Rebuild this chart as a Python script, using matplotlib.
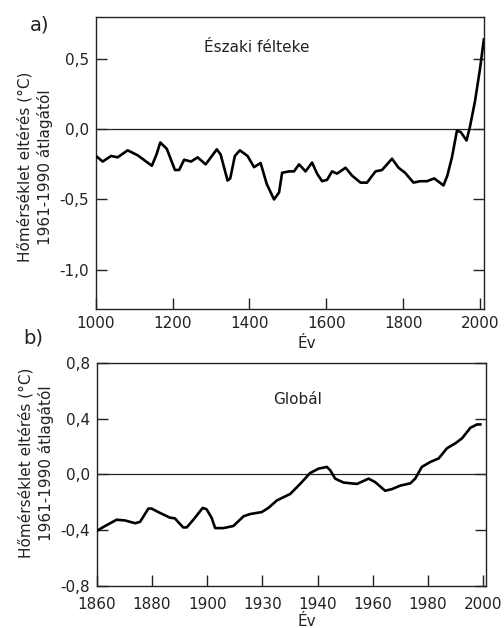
import numpy as np, matplotlib
matplotlib.use("Agg")
import matplotlib.pyplot as plt

plt.rcParams["font.family"] = ["DejaVu Sans"]

# a) Northern hemisphere, 1000-2000
nh_year = [1000, 1005, 1018, 1040, 1057, 1083, 1109, 1146, 1158, 1168, 1185, 1206, 1217,
           1230, 1248, 1265, 1286, 1315, 1325, 1343, 1350, 1362, 1375, 1395, 1412, 1429,
           1445, 1464, 1477, 1485, 1503, 1516, 1529, 1546, 1563, 1576, 1589, 1602, 1615,
           1628, 1650, 1667, 1689, 1706, 1728, 1745, 1771, 1788, 1805, 1827, 1844, 1862,
           1881, 1905, 1915, 1927, 1940, 1950, 1965, 1974, 1987, 2000, 2010]
nh_val = [-0.19, -0.20, -0.23, -0.19, -0.20, -0.15, -0.185, -0.26, -0.18, -0.094, -0.14,
          -0.29, -0.29, -0.217, -0.23, -0.20, -0.25, -0.143, -0.18, -0.365, -0.35, -0.19,
          -0.15, -0.19, -0.27, -0.24, -0.39, -0.50, -0.45, -0.31, -0.30, -0.30, -0.25,
          -0.30, -0.237, -0.316, -0.37, -0.36, -0.30, -0.316, -0.274, -0.33, -0.38, -0.38,
          -0.30, -0.29, -0.21, -0.274, -0.31, -0.38, -0.37, -0.37, -0.35, -0.40, -0.33,
          -0.20, -0.01, -0.02, -0.08, 0.02, 0.20, 0.43, 0.64]

# b) Global, 1860-2000
gl_year = [1860, 1863, 1867.2, 1870.2, 1873.9, 1875.7, 1878.7, 1879.9, 1882.9, 1886.5,
           1888.3, 1891.3, 1892.6, 1895, 1898.4, 1899.8, 1901.6, 1902.9, 1905.9, 1909.5,
           1913.2, 1915.6, 1919.8, 1922.2, 1925.3, 1930.1, 1933.7, 1937.3, 1940.4, 1943.4,
           1944.6, 1946.4, 1949.4, 1954.3, 1958.5, 1960.9, 1964.5, 1967, 1970, 1973.6,
           1975.4, 1977.8, 1980.9, 1983.9, 1986.9, 1990, 1992.4, 1995.4, 1997.8, 1999]
gl_val = [-0.405, -0.37, -0.325, -0.33, -0.35, -0.34, -0.245, -0.245, -0.276, -0.31,
          -0.315, -0.38, -0.38, -0.325, -0.24, -0.25, -0.31, -0.385, -0.385, -0.37,
          -0.30, -0.284, -0.27, -0.24, -0.186, -0.14, -0.068, 0.01, 0.042, 0.054,
          0.03, -0.03, -0.058, -0.068, -0.03, -0.055, -0.117, -0.105, -0.08, -0.064,
          -0.03, 0.054, 0.09, 0.115, 0.188, 0.224, 0.26, 0.335, 0.359, 0.359]

nh_yticks = [0.5, 0.0, -0.5, -1.0]
nh_ylabels = ["0,5", "0,0", "-0,5", "-1,0"]
nh_xticks = [1000, 1200, 1400, 1600, 1800, 2000]
gl_yticks = [0.8, 0.4, 0.0, -0.4, -0.8]
gl_ylabels = ["0,8", "0,4", "0,0", "-0,4", "-0,8"]
gl_xticks = [1860, 1880, 1900, 1920, 1940, 1960, 1980, 2000]
gl_xlabels = ["1860", "1880", "1900", "1930", "1940", "1960", "1980", "2000"]

YLAB = "Hőmérséklet eltérés (°C)\n1961-1990 átlagától"
INK = "#222222"

fig = plt.figure(figsize=(5.04, 6.28), dpi=100)
axA = fig.add_axes([0.190, 0.508, 0.770, 0.465])
axB = fig.add_axes([0.192, 0.067, 0.772, 0.355])

def style(ax):
    for s in ax.spines.values():
        s.set_linewidth(1.0); s.set_color(INK)
    ax.tick_params(axis="x", direction="in", length=8, width=1.0, colors=INK,
                   labelsize=11, pad=5, top=False)
    ax.tick_params(axis="y", direction="in", length=8, width=1.0, colors=INK,
                   labelsize=11, pad=5, right=True)
    ax.axhline(0, color=INK, lw=0.9, zorder=1)

axA.plot(nh_year, nh_val, color="black", lw=1.9, solid_joinstyle="round", zorder=3)
axA.set_xlim(1000, 2010); axA.set_ylim(-1.28, 0.8)
axA.set_xticks(nh_xticks); axA.set_xticklabels([str(v) for v in nh_xticks])
axA.set_yticks(nh_yticks); axA.set_yticklabels(nh_ylabels)
style(axA)
axA.text(0.415, 0.895, "Északi félteke", transform=axA.transAxes, ha="center",
         va="center", fontsize=11, color=INK)

axB.plot(gl_year, gl_val, color="black", lw=1.9, solid_joinstyle="round", zorder=3)
axB.set_xlim(1860, 2001); axB.set_ylim(-0.8, 0.8)
axB.set_xticks(gl_xticks); axB.set_xticklabels(gl_xlabels)
axB.set_yticks(gl_yticks); axB.set_yticklabels(gl_ylabels)
style(axB)
axB.tick_params(axis="x", pad=8)
axB.text(0.516, 0.835, "Globál", transform=axB.transAxes, ha="center",
         va="center", fontsize=11, color=INK)

fig.text(40/504, 1-25/628, "a)", fontsize=14, ha="center", va="center", color=INK)
fig.text(33/504, 1-338/628, "b)", fontsize=14, ha="center", va="center", color=INK)
fig.text(35/504, 1-167/628, YLAB, rotation=90, ha="center", va="center",
         fontsize=11, color=INK, linespacing=1.3, multialignment="center")
fig.text(36/504, 1-463/628, YLAB, rotation=90, ha="center", va="center",
         fontsize=11, color=INK, linespacing=1.3, multialignment="center")
fig.text(307/504, 1-343/628, "Év", ha="center", va="center", fontsize=11, color=INK)
fig.text(307/504, 1-621/628, "Év", ha="center", va="center", fontsize=11, color=INK)

fig.savefig("out.png", dpi=100)
